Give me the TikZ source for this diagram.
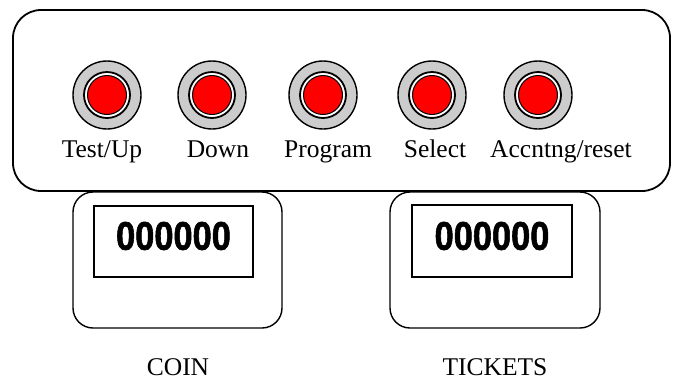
\documentclass[tikz,border=0pt]{standalone}
\usepackage{fontspec}
\setmainfont{Liberation Serif}
\newfontfamily\digitfont[BoldFeatures={FakeBold=1.6}]{Liberation Sans}
\begin{document}
\begin{tikzpicture}[x=1pt,y=-1pt,
  panel/.style={draw=black,line width=1.8pt,rounded corners=28pt},
  counterbox/.style={draw=black,line width=1.4pt,rounded corners=20pt},
  window/.style={draw=black,line width=2pt},
  btnouter/.style={circle,draw=black,line width=1.4pt,fill=black!20,minimum size=68pt,inner sep=0pt},
  btnring/.style={circle,draw=black,line width=1.8pt,fill=white,minimum size=46pt,inner sep=0pt},
  btnred/.style={circle,draw=black,line width=1pt,fill=red,minimum size=39pt,inner sep=0pt},
  lbl/.style={anchor=base,inner sep=0pt,font=\fontsize{25.5}{30}\selectfont},
  digits/.style={inner sep=0pt,font=\digitfont\bfseries\fontsize{40}{41}\selectfont,xscale=0.86}
]
\useasboundingbox (0,0) rectangle (678,381);
\fill[white] (0,0) rectangle (678,381);
% main panel
\draw[panel] (13,10) rectangle (670,191);
% buttons
\foreach \n/\x in {1/107,2/212,3/323,4/432,5/538}{
  \node[btnouter] (bo\n) at (\x,95) {};
  \node[btnring] (br\n) at (bo\n.center) {};
  \node[btnred] (bd\n) at (bo\n.center) {};
}
\node[lbl] (l1) at (102,157) {Test/Up};
\node[lbl] (l2) at (218,157) {Down};
\node[lbl] (l3) at (328,157) {Program};
\node[lbl] (l4) at (435,157) {Select};
\node[lbl] (l5) at (561,157) {Accntng/reset};
% counters
\draw[counterbox] (73,192) rectangle (282,328);
\draw[window] (94,206) coordinate (w1a) rectangle (253,277) coordinate (w1b);
\node[digits] (d1) at (173.5,236) {000000};
\draw[counterbox] (390,192) rectangle (600,328);
\draw[window] (412,205) coordinate (w2a) rectangle (572,277) coordinate (w2b);
\node[digits] (d2) at (492,236) {000000};
\node[lbl] (coin) at (178,375) {COIN};
\node[lbl] (tickets) at (495,375) {TICKETS};
\end{tikzpicture}
\end{document}
